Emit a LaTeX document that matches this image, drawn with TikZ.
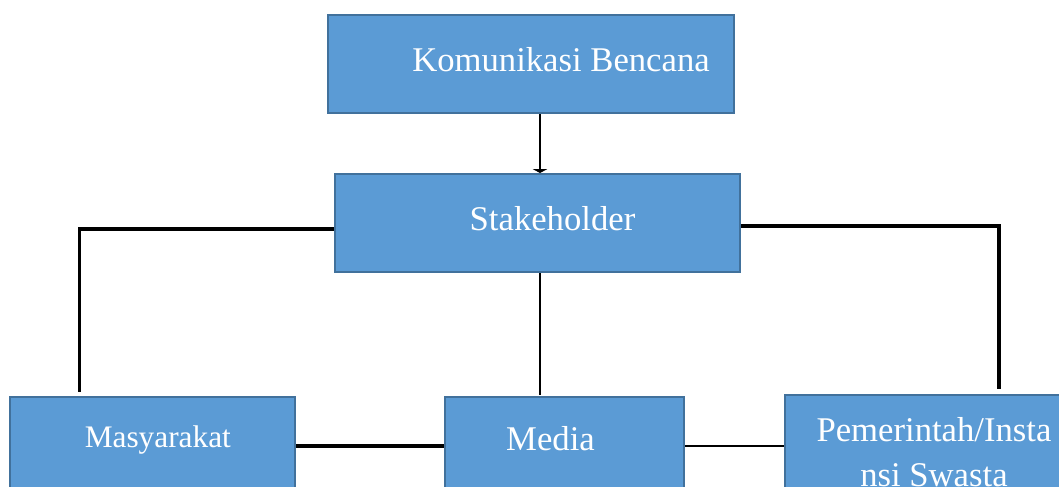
\documentclass[tikz,border=0pt]{standalone}
\usepackage{fontspec}
\setmainfont{Liberation Serif}
\usetikzlibrary{arrows.meta}
\definecolor{boxfill}{HTML}{5B9BD5}
\definecolor{boxline}{HTML}{41719C}
\tikzset{
  box/.style={draw=boxline,fill=boxfill,line width=1.5pt,text=white,inner sep=0pt,
    minimum height=73.5pt,font=\fontsize{26}{28}\selectfont},
  base/.style={text height=#1,text depth=0pt},
  link/.style={line width=1.2pt},
  heavy/.style={line width=2.5pt},
}
\begin{document}
\begin{tikzpicture}[x=0.75pt,y=-0.75pt]
\useasboundingbox (0,0) rectangle (1059,486);
\clip (0,0) rectangle (1059,486);

\begin{scope}
\node[box,base=10.5pt,minimum width=304.5pt] (komunikasi) at (531,64) {\hspace*{45pt}Komunikasi Bencana};
\node[box,base=10.5pt,minimum width=303.75pt] (stakeholder) at (537.5,223) {\hspace*{22.5pt}Stakeholder};

\node[box,base=1.5pt,minimum width=213.75pt,font=\fontsize{23.5}{26}\selectfont] (masyarakat) at (152.5,446) {\hspace*{8pt}Masyarakat};
\node[box,base=6pt,minimum width=179.25pt] (media) at (564.5,446) {\hspace*{-21pt}Media};
\node[box,minimum width=223.5pt,align=center,font=\fontsize{26}{34}\selectfont] (pemerintah) at (934,444) {\rule{0pt}{30pt}Pemerintah/Insta\\nsi Swasta};

\draw[line width=1pt,-{Triangle[width=11pt,length=3pt]}] (komunikasi.south -| 540,0) -- (stakeholder.north -| 540,0);

\draw[heavy] ([yshift=-4.5pt]stakeholder.west) -| ([xshift=-55pt,yshift=3pt]masyarakat.north);
\draw[heavy] ([yshift=-2.2pt]stakeholder.east) -| ([xshift=48.75pt,yshift=4pt]pemerintah.north);
\draw[link] (stakeholder.south -| 540,0) -- (540,395);

\draw[heavy] (masyarakat.east) -- (media.west);
\draw[line width=1.6pt] (media.east) -- (media.east -| pemerintah.west);
\end{scope}

\end{tikzpicture}
\end{document}
